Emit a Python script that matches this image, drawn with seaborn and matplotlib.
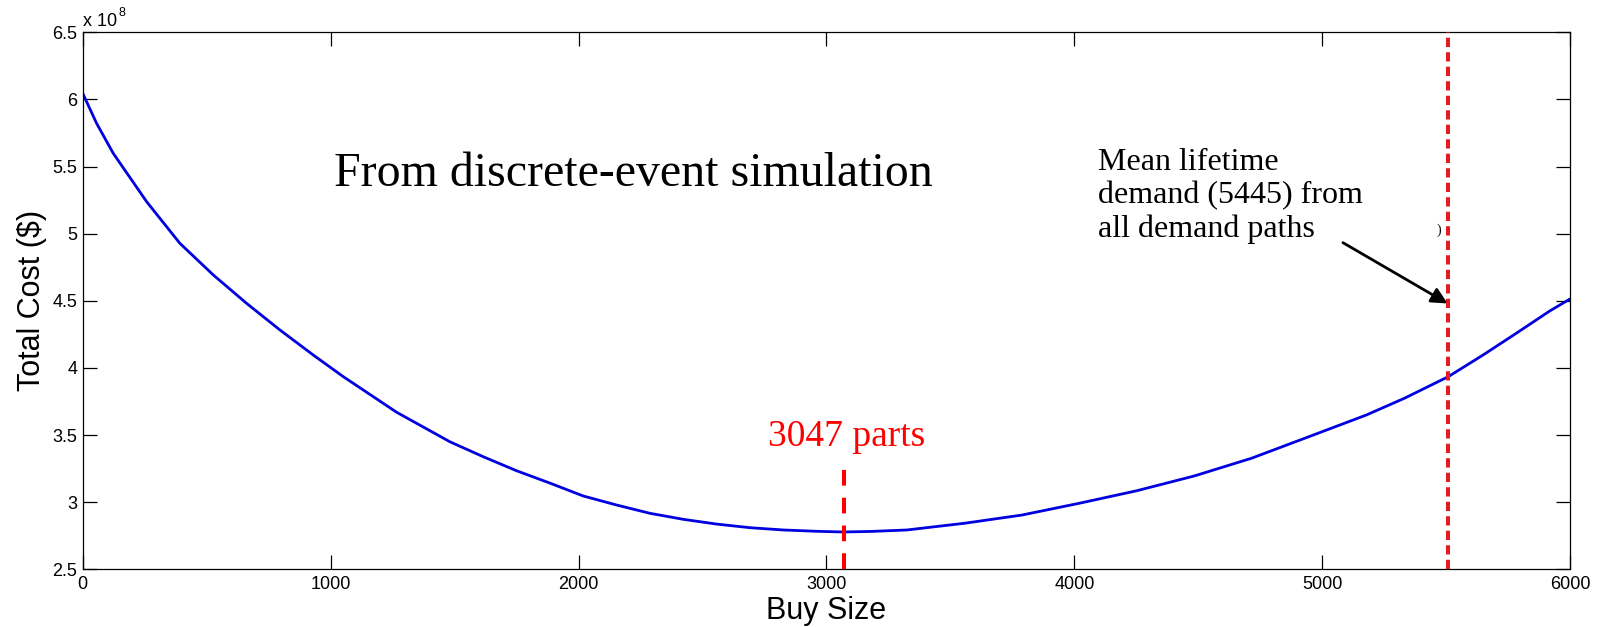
#!/usr/bin/env python3
# Total cost vs buy size from a discrete-event simulation (MATLAB-style figure)

import matplotlib
matplotlib.use("Agg")
import matplotlib.pyplot as plt
import seaborn as sns
import pandas as pd

# Curve (cost in units of 1e8 $)
buy_size = [0, 56, 123, 258, 392, 527, 661, 796, 930, 1051, 1266, 1481, 1615,
            1750, 1886, 2019, 2153, 2288, 2423, 2556, 2691, 2825, 2960, 3067,
            3180, 3325, 3557, 3788, 4020, 4251, 4483, 4714, 4946, 5177, 5331,
            5508, 5648, 5782, 5917, 6000]
total_cost = [6.046, 5.822, 5.599, 5.238, 4.928, 4.692, 4.481, 4.282, 4.096,
              3.935, 3.67, 3.450, 3.339, 3.234, 3.141, 3.046, 2.979, 2.917,
              2.872, 2.837, 2.810, 2.793, 2.783, 2.778, 2.782, 2.793, 2.843,
              2.904, 2.992, 3.085, 3.195, 3.327, 3.488, 3.649, 3.774, 3.935,
              4.096, 4.258, 4.424, 4.515]

optimum_x = 3070        # where the "3047 parts" marker is drawn
optimum_top = 3.28
demand_x = 5508         # mean lifetime demand marker

x_ticks = [0, 1000, 2000, 3000, 4000, 5000, 6000]
y_ticks = [2.5, 3, 3.5, 4, 4.5, 5, 5.5, 6, 6.5]
y_tick_labels = ["2.5", "3", "3.5", "4", "4.5", "5", "5.5", "6", "6.5"]

SANS = "Liberation Sans"
SERIF = "Liberation Serif"


def main():
    sns.set_style("white")
    plt.rcParams["font.family"] = [SANS, "DejaVu Sans"]
    plt.rcParams["text.color"] = "black"
    plt.rcParams["axes.labelcolor"] = "black"

    df = pd.DataFrame({"Buy Size": buy_size, "Total Cost": total_cost})

    fig = plt.figure(figsize=(16.02, 6.27), dpi=100)
    ax = fig.add_axes([0.05162, 0.09203, 0.92859, 0.85646])

    sns.lineplot(data=df, x="Buy Size", y="Total Cost", ax=ax,
                 color="#0000e0", linewidth=2.0, zorder=2)

    # red markers
    ax.plot([demand_x, demand_x], [2.5, 6.5], color="#e31b23", lw=2.9,
            dashes=(2.3, 1.3), zorder=3, clip_on=False)
    ax.plot([optimum_x, optimum_x], [2.5, optimum_top], color="#ff0000", lw=2.9,
            dashes=(3.9, 3.0), zorder=3)

    ax.set_xlim(0, 6000)
    ax.set_ylim(2.5, 6.5)
    ax.set_xticks(x_ticks)
    ax.set_yticks(y_ticks)
    ax.set_yticklabels(y_tick_labels)

    for s in ax.spines.values():
        s.set_visible(True)
        s.set_color("black")
        s.set_linewidth(0.9)
    ax.tick_params(direction="in", length=10, width=0.9, labelsize=13,
                   top=True, right=True, bottom=True, left=True,
                   colors="black", labelcolor="black")
    ax.tick_params(axis="x", pad=5)
    ax.tick_params(axis="y", pad=4)

    ax.set_xlabel("Buy Size", fontsize=22, labelpad=2)
    ax.set_ylabel("Total Cost ($)", fontsize=22, labelpad=4)

    # exponent label, MATLAB style
    ax.text(0.0, 1.012, "x 10", transform=ax.transAxes, fontsize=13,
            ha="left", va="baseline")
    ax.text(0.0239, 1.03, "8", transform=ax.transAxes, fontsize=9,
            ha="left", va="baseline")

    # annotations
    ax.text(1013, 5.355, "From discrete-event simulation", family=SERIF,
            fontsize=34.5, ha="left", va="baseline")
    ax.text(2765, 3.42, "3047 parts", family=SERIF, fontsize=27,
            color="#ff0000", ha="left", va="baseline")
    # baseline of the last line
    ax.text(4095, 4.973, "Mean lifetime\ndemand (5445) from\nall demand paths",
            family=SERIF, fontsize=23, ha="left", va="baseline",
            linespacing=1.2)
    ax.text(5462, 5.0, ")", family=SERIF, fontsize=10, ha="left",
            va="baseline", zorder=1)
    ax.annotate("", xy=(5505, 4.48), xytext=(5083, 4.933),
                arrowprops=dict(arrowstyle="-|>", color="black", lw=2.0,
                                mutation_scale=24, shrinkA=0, shrinkB=0))

    fig.savefig("out.png", dpi=100)


if __name__ == "__main__":
    main()
